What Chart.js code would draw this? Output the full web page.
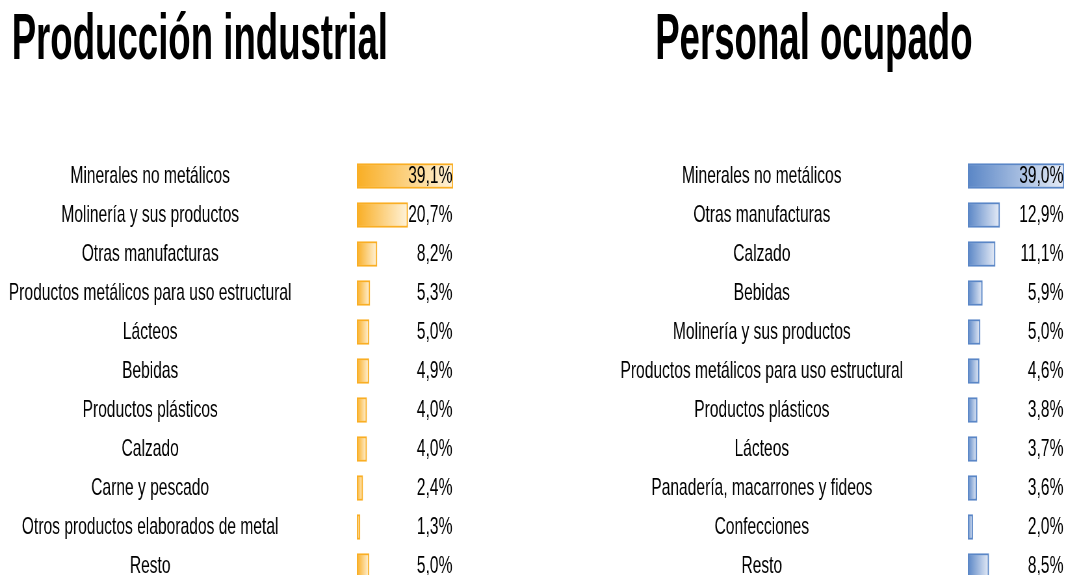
<!DOCTYPE html>
<html>
<head>
<meta charset="utf-8">
<script src="https://cdn.jsdelivr.net/npm/chart.js"></script>
<style>
  html, body { margin: 0; padding: 0; background: #fff; overflow: hidden; width: 1067px; height: 575px; }
  /* el original esta comprimido en horizontal, se reproduce con un scaleX */
  #stage { position: absolute; left: 0; top: 0; width: 1641.5px; height: 600px; transform: scaleX(0.65); transform-origin: 0 0; }
  .titulo { position: absolute; top: 5px; font: bold 64px 'Liberation Sans', Arial, sans-serif; line-height: 1; white-space: nowrap; color: #000; transform: scaleX(0.88); transform-origin: 0 0; }
  canvas { position: absolute; top: 0; }
</style>
</head>
<body>
<div id="stage">
  <div class="titulo" style="left:18px">Producción industrial</div>
  <div class="titulo" style="left:1008px">Personal ocupado</div>
  <canvas id="produccion" width="760" height="600" style="left:0"></canvas>
  <canvas id="personal" width="941" height="600" style="left:700px"></canvas>
</div>

<script>
// DATOS ================================
const sectores_prod = ['Minerales no metálicos', 'Molinería y sus productos', 'Otras manufacturas',
  'Productos metálicos para uso estructural', 'Lácteos', 'Bebidas', 'Productos plásticos',
  'Calzado', 'Carne y pescado', 'Otros productos elaborados de metal', 'Resto']
const valores_prod = [39.1, 20.7, 8.2, 5.3, 5.0, 4.9, 4.0, 4.0, 2.4, 1.3, 5.0]

const sectores_pers = ['Minerales no metálicos', 'Otras manufacturas', 'Calzado', 'Bebidas',
  'Molinería y sus productos', 'Productos metálicos para uso estructural', 'Productos plásticos',
  'Lácteos', 'Panadería, macarrones y fideos', 'Confecciones', 'Resto']
const valores_pers = [39.0, 12.9, 11.1, 5.9, 5.0, 4.6, 3.8, 3.7, 3.6, 2.0, 8.5]

const fuente = "'Liberation Sans', Arial, sans-serif"
const tam = 24

// ancho del rotulo mas largo, para centrar la columna de rotulos
function anchoMax(lista) {
  const c = document.createElement('canvas').getContext('2d')
  c.font = 'normal ' + tam + 'px ' + fuente
  let w = 0
  lista.forEach(t => { w = Math.max(w, c.measureText(t).width) })
  return w
}

const valores = {
  id: 'valores',
  afterDatasetsDraw(chart) {
    const { ctx, chartArea } = chart
    const meta = chart.getDatasetMeta(0)
    const data = chart.data.datasets[0].data
    ctx.save()
    ctx.font = 'normal ' + tam + 'px ' + fuente
    ctx.fillStyle = '#000'
    ctx.textAlign = 'right'
    ctx.textBaseline = 'middle'
    meta.data.forEach((bar, i) => {
      ctx.fillText(data[i].toFixed(1).replace('.', ',') + '%', chartArea.right - 1, bar.y)
    })
    ctx.restore()
  }
}

function grafico(id, etiquetas, datos, maximo, color, claro, cajaIzq, centro, areaIzq, padDer) {
  const w = anchoMax(etiquetas)
  const izq = centro - w / 2 - cajaIzq
  const pad = areaIzq - cajaIzq - izq - w

  new Chart(document.getElementById(id), {
    type: 'bar',
    data: {
      labels: etiquetas,
      datasets: [{
        data: datos,
        borderColor: color,
        borderWidth: 2,
        borderSkipped: false,
        barThickness: 25,
        backgroundColor: (c) => {
          const x = c.chart.scales.x
          if (!x || c.type !== 'data') return color
          const x0 = x.getPixelForValue(0)
          const x1 = x.getPixelForValue(c.raw)
          if (!isFinite(x0) || !isFinite(x1) || x1 === x0) return color
          const g = c.chart.ctx.createLinearGradient(x0, 0, x1, 0)
          g.addColorStop(0, color)
          g.addColorStop(1, claro)
          return g
        }
      }]
    },
    options: {
      indexAxis: 'y',
      responsive: false,
      animation: false,
      layout: { padding: { left: izq, right: padDer, top: 156.5, bottom: 14.5 } },
      scales: {
        x: { display: false, min: 0, max: maximo },
        y: {
          grid: { display: false, drawTicks: false, tickLength: 0 },
          border: { display: false },
          ticks: {
            crossAlign: 'center',
            padding: pad,
            autoSkip: false,
            color: '#000',
            font: { family: fuente, size: tam }
          },
          afterFit: (s) => {
            s.width = w + pad
            s.paddingTop = 0
            s.paddingBottom = 0
          }
        }
      },
      plugins: { legend: { display: false }, tooltip: { enabled: false } }
    },
    plugins: [valores]
  })
}

grafico('produccion', sectores_prod, valores_prod, 39.1, '#F9AE24', '#FFF3DA', 0, 231, 549, 63)
grafico('personal', sectores_pers, valores_pers, 39.0, '#5A86C6', '#E6ECF7', 700, 1172, 1489, 4)
</script>
</body>
</html>
